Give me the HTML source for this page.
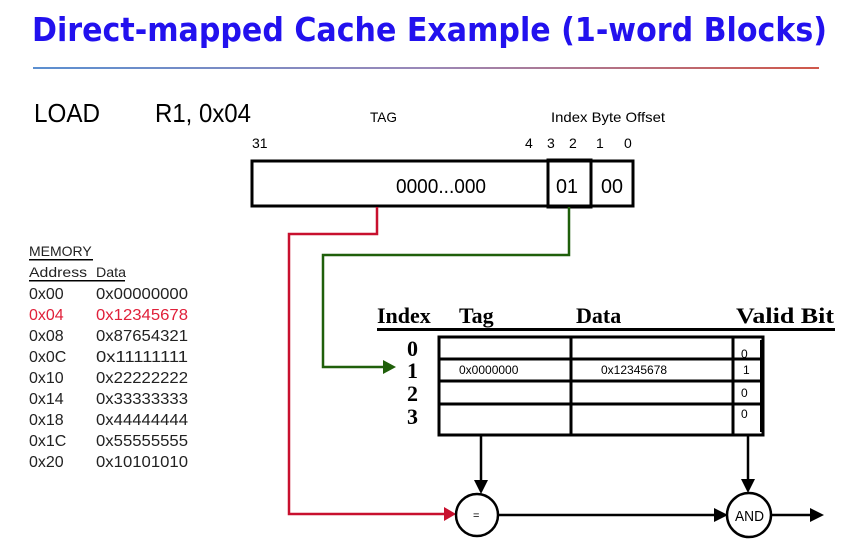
<!DOCTYPE html>
<html><head><meta charset="utf-8"><style>
body{margin:0;background:#fff;}
svg{display:block;}
</style></head><body>
<svg width="846" height="560" viewBox="0 0 846 560" xmlns="http://www.w3.org/2000/svg" font-family="Liberation Sans, sans-serif">
<defs>
<linearGradient id="g" x1="0" x2="1"><stop offset="0" stop-color="#5b8fd0"/><stop offset="0.5" stop-color="#9a88b8"/><stop offset="1" stop-color="#d0584a"/></linearGradient>
</defs>
<text x="32" y="41" font-size="33" font-weight="bold" fill="#2211ee" textLength="795" lengthAdjust="spacingAndGlyphs" font-family="DejaVu Sans, sans-serif">Direct-mapped Cache Example (1-word Blocks)</text>
<rect x="33" y="67" width="786" height="2" fill="url(#g)"/>
<text x="34" y="122" font-size="26" textLength="66" lengthAdjust="spacingAndGlyphs">LOAD</text>
<text x="155" y="122" font-size="26" textLength="96" lengthAdjust="spacingAndGlyphs">R1, 0x04</text>
<text x="370" y="122" font-size="14" textLength="27" lengthAdjust="spacingAndGlyphs">TAG</text>
<text x="551" y="122" font-size="14" textLength="114" lengthAdjust="spacingAndGlyphs">Index Byte  Offset</text>
<g font-size="14">
<text x="252" y="148">31</text><text x="525" y="148">4</text><text x="547" y="148">3</text><text x="569" y="148">2</text><text x="596" y="148">1</text><text x="624" y="148">0</text>
</g>
<g fill="none" stroke="#000" stroke-width="3">
<rect x="252" y="161" width="381" height="45"/>
<rect x="548" y="160" width="43" height="47"/>
</g>
<text x="396" y="193" font-size="20" textLength="90" lengthAdjust="spacingAndGlyphs">0000...000</text>
<text x="556" y="193" font-size="20" textLength="22" lengthAdjust="spacingAndGlyphs">01</text>
<text x="601" y="193" font-size="20" textLength="22" lengthAdjust="spacingAndGlyphs">00</text>
<polyline points="377,207 377,234 289,234 289,514 445,514" fill="none" stroke="#c8102e" stroke-width="2.5"/>
<polygon points="444,507 456,514 444,521" fill="#c8102e"/>
<polyline points="569,207 569,255 323,255 323,367 384,367" fill="none" stroke="#1f5f0a" stroke-width="2.5"/>
<polygon points="383,360 396,367 383,374" fill="#1f5f0a"/>
<g font-size="14" fill="#222">
<text x="29" y="256">MEMORY</text>
<text x="29" y="277" textLength="58" lengthAdjust="spacingAndGlyphs">Address</text><text x="96" y="277" textLength="30" lengthAdjust="spacingAndGlyphs">Data</text>
</g>
<rect x="29" y="259" width="64" height="1.5" fill="#000"/>
<rect x="29" y="280" width="96" height="1.5" fill="#000"/>
<g font-size="16" fill="#222">
<text x="29" y="299">0x00</text><text x="96" y="299" textLength="92" lengthAdjust="spacingAndGlyphs">0x00000000</text>
<text x="29" y="320" fill="#e0203a">0x04</text><text x="96" y="320" fill="#e0203a" textLength="92" lengthAdjust="spacingAndGlyphs">0x12345678</text>
<text x="29" y="341">0x08</text><text x="96" y="341" textLength="92" lengthAdjust="spacingAndGlyphs">0x87654321</text>
<text x="29" y="362">0x0C</text><text x="96" y="362" textLength="92" lengthAdjust="spacingAndGlyphs">0x11111111</text>
<text x="29" y="383">0x10</text><text x="96" y="383" textLength="92" lengthAdjust="spacingAndGlyphs">0x22222222</text>
<text x="29" y="404">0x14</text><text x="96" y="404" textLength="92" lengthAdjust="spacingAndGlyphs">0x33333333</text>
<text x="29" y="425">0x18</text><text x="96" y="425" textLength="92" lengthAdjust="spacingAndGlyphs">0x44444444</text>
<text x="29" y="446">0x1C</text><text x="96" y="446" textLength="92" lengthAdjust="spacingAndGlyphs">0x55555555</text>
<text x="29" y="467">0x20</text><text x="96" y="467" textLength="92" lengthAdjust="spacingAndGlyphs">0x10101010</text>
</g>
<g font-family="Liberation Serif, serif" font-weight="bold" font-size="22">
<text x="377" y="323">Index</text><text x="459" y="323">Tag</text><text x="576" y="323">Data</text><text x="736" y="323" textLength="98" lengthAdjust="spacingAndGlyphs">Valid Bit</text>
<text x="407" y="356">0</text><text x="407" y="378">1</text><text x="407" y="401">2</text><text x="407" y="424">3</text>
</g>
<rect x="377" y="328" width="458" height="3" fill="#000"/>
<g fill="none" stroke="#000" stroke-width="3">
<rect x="439" y="337" width="324" height="98"/>
<line x1="571" y1="337" x2="571" y2="435"/>
<line x1="733" y1="337" x2="733" y2="435"/>
<line x1="439" y1="359" x2="763" y2="359"/>
<line x1="439" y1="381" x2="763" y2="381"/>
<line x1="439" y1="404" x2="763" y2="404"/>
<line x1="761" y1="340" x2="761" y2="432" stroke-width="2"/>
</g>
<g font-size="12">
<text x="459" y="374">0x0000000</text><text x="601" y="374">0x12345678</text>
<text x="741" y="358">0</text><text x="743" y="374">1</text><text x="741" y="397">0</text><text x="741" y="418">0</text>
</g>
<g stroke="#000" stroke-width="2.5" fill="none">
<line x1="481" y1="435" x2="481" y2="482"/>
<line x1="748" y1="435" x2="748" y2="481"/>
<line x1="499" y1="515" x2="716" y2="515"/>
<line x1="772" y1="515" x2="812" y2="515"/>
<circle cx="477" cy="515" r="21"/>
<circle cx="749" cy="515" r="22"/>
</g>
<polygon points="474,480 488,480 481,494" fill="#000"/>
<polygon points="741,479 755,479 748,493" fill="#000"/>
<polygon points="714,508 728,515 714,522" fill="#000"/>
<polygon points="810,508 824,515 810,522" fill="#000"/>
<text x="473" y="519" font-size="11">=</text>
<text x="735" y="521" font-size="15" textLength="29" lengthAdjust="spacingAndGlyphs">AND</text>
</svg>
</body></html>
